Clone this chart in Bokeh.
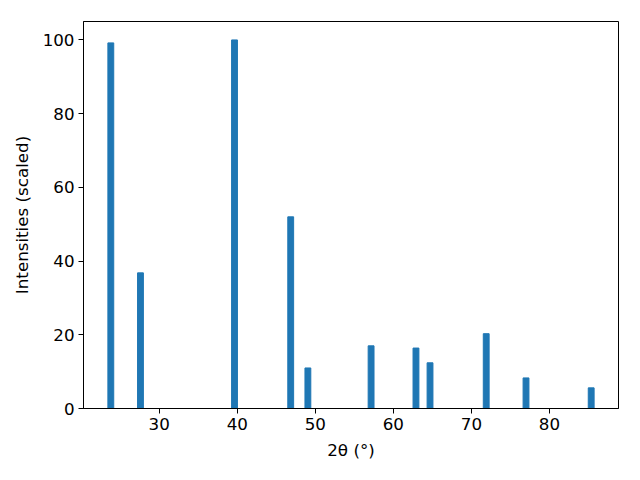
from bokeh.plotting import figure
from bokeh.models import Range1d, FixedTicker, ColumnDataSource
from bokeh.embed import file_html
from bokeh.resources import INLINE

two_theta = [23.8, 27.6, 39.65, 46.85, 49.05, 57.15, 62.9, 64.7, 71.9, 77.0, 85.35]
intensity = [99.2, 36.8, 100.0, 52.0, 11.0, 17.0, 16.4, 12.4, 20.3, 8.3, 5.6]
x_ticks = [30, 40, 50, 60, 70, 80]
y_ticks = [0, 20, 40, 60, 80, 100]

src = ColumnDataSource(dict(x=two_theta, top=intensity))

p = figure(width=624, height=464, output_backend="svg", toolbar_location=None,
           x_range=Range1d(20.3, 88.85), y_range=Range1d(0, 105),
           min_border_left=83, min_border_right=6, min_border_top=21, min_border_bottom=56)
p.vbar(x="x", top="top", width=0.75, source=src, color="#1f77b4")

p.xgrid.visible = False
p.ygrid.visible = False
p.outline_line_color = "black"
p.outline_line_width = 1
p.outline_line_alpha = 1

for ax in (p.xaxis[0], p.yaxis[0]):
    ax.major_tick_out = 5
    ax.major_tick_in = 0
    ax.minor_tick_line_color = None
    ax.axis_line_color = "black"
    ax.major_tick_line_color = "black"
    ax.major_label_text_font = "DejaVu Sans"
    ax.major_label_text_font_size = "16.7px"
    ax.major_label_text_color = "black"
    ax.axis_label_text_font = "DejaVu Sans"
    ax.axis_label_text_font_size = "16.7px"
    ax.axis_label_text_font_style = "normal"
    ax.axis_label_text_color = "black"

p.xaxis.ticker = FixedTicker(ticks=x_ticks)
p.yaxis.ticker = FixedTicker(ticks=y_ticks)
p.xaxis.axis_label = "2θ (°)"
p.yaxis.axis_label = "Intensities (scaled)"
p.xaxis.major_label_standoff = 4
p.yaxis.major_label_standoff = 4
p.xaxis.axis_label_standoff = 7
p.yaxis.axis_label_standoff = 8

open("out.html", "w").write(file_html(p, INLINE))
